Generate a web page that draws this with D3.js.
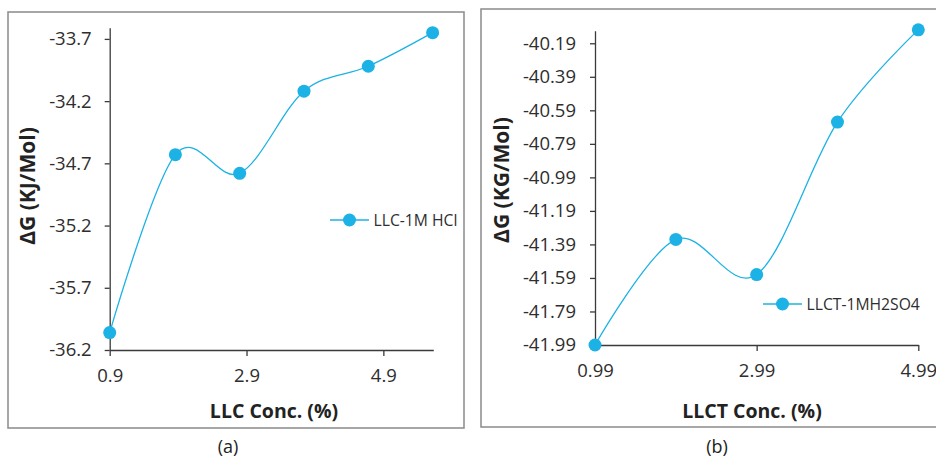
<!DOCTYPE html>
<html>
<head>
<meta charset="utf-8">
<script src="https://cdn.jsdelivr.net/npm/d3@7"></script>
<style>
  body { margin: 0; background: #fff; }
  svg { display: block; font-family: "Open Sans", sans-serif; }
</style>
</head>
<body>
<svg id="chart" width="936" height="457"></svg>
<script>
// panel (a): LLC in 1M HCl
const concA = [0.9, 1.86, 2.8, 3.74, 4.68, 5.62];
const dgA = [-36.06, -34.63, -34.78, -34.12, -33.92, -33.65];
const xTicksA = [0.9, 2.9, 4.9];
const yTicksA = [-36.2, -35.7, -35.2, -34.7, -34.2, -33.7];

// panel (b): LLCT in 1M H2SO4
const concB = [0.99, 1.99, 2.99, 3.99, 4.99];
const dgB = [-41.99, -41.36, -41.57, -40.66, -40.11];
const xTicksB = [0.99, 2.99, 4.99];
const yTicksB = [-41.99, -41.79, -41.59, -41.39, -41.19, -40.99, -40.79, -40.59, -40.39, -40.19];

const blue = "#1cb2e5";
const svg = d3.select("#chart");

// excel style labels use a plain hyphen for the minus sign
const fmt = spec => {
    const f = d3.format(spec);
    return v => f(v).replace("\u2212", "-");
};

const panels = [
    {
        xs: concA, ys: dgA, xTicks: xTicksA, yTicks: yTicksA,
        xDomain: [0.9, 5.63], yDomain: [-36.2, -33.61],
        xRange: [109.7, 433.3], yRange: [350, 27.7],
        fmt: fmt(".1f"), yPad: 13,
        frame: [8, 12, 456, 416],
        xTitle: "LLC Conc. (%)", xTitleX: 274,
        yTitle: "ΔG (KJ/Mol)", yTitleX: 28, yTitleY: 186,
        legend: "LLC-1M HCl", legX: 330, legY: 220,
        caption: "(a)", capX: 228
    },
    {
        xs: concB, ys: dgB, xTicks: xTicksB, yTicks: yTicksB,
        xDomain: [0.99, 4.99], yDomain: [-41.99, -40.115],
        xRange: [595, 918.3], yRange: [345, 30.7],
        fmt: fmt(".2f"), yPad: 14,
        frame: [481, 9, 470, 418],
        xTitle: "LLCT Conc. (%)", xTitleX: 752,
        yTitle: "ΔG (KG/Mol)", yTitleX: 502, yTitleY: 180,
        legend: "LLCT-1MH2SO4", legX: 763, legY: 304,
        caption: "(b)", capX: 717
    }
];

panels.forEach(p => {
    const g = svg.append("g");

    g.append("rect")
        .attr("x", p.frame[0]).attr("y", p.frame[1])
        .attr("width", p.frame[2]).attr("height", p.frame[3])
        .attr("fill", "none")
        .attr("stroke", "#8a8a8a")
        .attr("stroke-width", 1.5);

    const x = d3.scaleLinear().domain(p.xDomain).range(p.xRange);
    const y = d3.scaleLinear().domain(p.yDomain).range(p.yRange);

    // Axes
    const yAxis = g.append("g")
        .attr("transform", `translate(${p.xRange[0]},0)`)
        .call(d3.axisLeft(y).tickValues(p.yTicks).tickFormat(p.fmt)
            .tickSize(5).tickSizeOuter(0).tickPadding(p.yPad));

    const xAxis = g.append("g")
        .attr("transform", `translate(0,${p.yRange[0]})`)
        .call(d3.axisBottom(x).tickValues(p.xTicks).tickFormat(p.fmt)
            .tickSize(6).tickSizeOuter(0).tickPadding(12.5));

    [yAxis, xAxis].forEach(a => {
        a.select(".domain").attr("stroke", "#3a3a3a").attr("stroke-width", 1.3);
        a.selectAll(".tick line").attr("stroke", "#3a3a3a").attr("stroke-width", 1.3);
        a.selectAll(".tick text")
            .attr("font-family", "Open Sans")
            .attr("font-size", 18.5)
            .attr("fill", "#2e2e2e");
    });

    // Line + markers
    const pts = p.xs.map((v, i) => [v, p.ys[i]]);
    const line = d3.line()
        .x(d => x(d[0]))
        .y(d => y(d[1]))
        .curve(d3.curveCatmullRom.alpha(0));

    g.append("path")
        .datum(pts)
        .attr("fill", "none")
        .attr("stroke", blue)
        .attr("stroke-width", 1.3)
        .attr("d", line);

    g.selectAll(".dot")
        .data(pts)
        .enter()
        .append("circle")
        .attr("class", "dot")
        .attr("cx", d => x(d[0]))
        .attr("cy", d => y(d[1]))
        .attr("r", 6.5)
        .attr("fill", blue);

    // Titles
    g.append("text")
        .attr("x", p.xTitleX).attr("y", 417.5)
        .attr("text-anchor", "middle")
        .attr("font-size", 19.5).attr("font-weight", "bold")
        .attr("fill", "#222")
        .text(p.xTitle);

    g.append("text")
        .attr("transform", `translate(${p.yTitleX},${p.yTitleY}) rotate(-90)`)
        .attr("text-anchor", "middle")
        .attr("dy", "0.35em")
        .attr("font-size", 21).attr("font-weight", "bold")
        .attr("fill", "#222")
        .text(p.yTitle);

    // Legend
    const leg = g.append("g").attr("transform", `translate(${p.legX},${p.legY})`);
    leg.append("line")
        .attr("x1", 0).attr("x2", 39)
        .attr("stroke", blue).attr("stroke-width", 1.3);
    leg.append("circle")
        .attr("cx", 19.5).attr("r", 6.5).attr("fill", blue);
    leg.append("text")
        .attr("x", 43.5).attr("dy", "0.35em")
        .attr("font-size", 15.7)
        .attr("fill", "#2e2e2e")
        .text(p.legend);

    // Caption below panel
    svg.append("text")
        .attr("x", p.capX).attr("y", 453)
        .attr("text-anchor", "middle")
        .attr("font-size", 18)
        .attr("fill", "#222")
        .text(p.caption);
});
</script>
</body>
</html>
